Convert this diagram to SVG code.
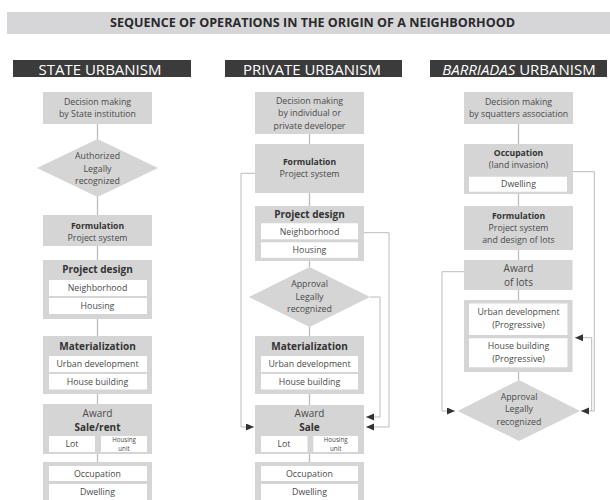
<svg xmlns="http://www.w3.org/2000/svg" width="610" height="500" viewBox="0 0 610 500">
<defs>
<style>
.bg{fill:#ffffff}
.box{fill:#d5d5d5}
.in{fill:#ffffff}
.hd{fill:#3b3b3b}
.tb{fill:#d6d6d9}
.t{font-family:"Open Sans","Liberation Sans",sans-serif;font-size:8.8px;fill:#4a4a4a;text-anchor:middle}
.b{font-family:"Open Sans","Liberation Sans",sans-serif;font-size:8.6px;font-weight:700;fill:#333;text-anchor:middle}
.bl{font-family:"Open Sans","Liberation Sans",sans-serif;font-size:10px;font-weight:700;fill:#333;text-anchor:middle}
.l{font-family:"Open Sans","Liberation Sans",sans-serif;font-size:10px;fill:#4a4a4a;text-anchor:middle}
.s{font-family:"Open Sans","Liberation Sans",sans-serif;font-size:6.2px;fill:#4a4a4a;text-anchor:middle}
.h{font-family:"Open Sans","Liberation Sans",sans-serif;font-size:15px;fill:#ffffff;text-anchor:middle}
.ti{font-family:"Open Sans","Liberation Sans",sans-serif;font-size:13px;font-weight:700;fill:#2a2a2a;text-anchor:middle}
.c{fill:none;stroke:#bdbdbd;stroke-width:1.3}
.f{fill:none;stroke:#bcbcbc;stroke-width:1}
</style>
<marker id="arr" markerUnits="userSpaceOnUse" markerWidth="9" markerHeight="8" refX="8" refY="3.5" orient="auto">
<path d="M0,0 L8,3.5 L0,7 z" fill="#333"/>
</marker>
</defs>
<rect class="bg" x="0" y="0" width="610" height="500"/>

<g id="title">
<rect class="tb" x="7" y="12" width="603" height="22"/>
<text class="ti" x="312.5" y="27.3" textLength="405" lengthAdjust="spacingAndGlyphs">SEQUENCE OF OPERATIONS IN THE ORIGIN OF A NEIGHBORHOOD</text>
</g>

<g id="headers">
<rect class="hd" x="13" y="60" width="178" height="17"/>
<text class="h" x="100" y="75">STATE URBANISM</text>
<rect class="hd" x="225" y="60" width="177" height="17"/>
<text class="h" x="312" y="75">PRIVATE URBANISM</text>
<rect class="hd" x="430" y="60" width="177" height="17"/>
<text class="h" x="519" y="75"><tspan font-style="italic">BARRIADAS</tspan> URBANISM</text>
</g>

<g id="connectors">
<path class="c" d="M97.5 124 V139 M97.5 197 V215 M97.5 246 V260 M97.5 319 V336 M97.5 394 V404 M97.5 454 V462"/>
<path class="c" d="M309.5 134 V144 M309.5 193 V206 M309.5 261 V267 M309.5 327 V336 M309.5 394 V405 M309.5 454 V462"/>
<path class="f" d="M255 173.3 H241 V427 H254" marker-end="url(#arr)"/>
<path class="f" d="M364 232.7 H389 V427 H366" marker-end="url(#arr)"/>
<path class="f" d="M370 297 H380 V417 H366" marker-end="url(#arr)"/>
<path class="c" d="M518.5 124 V144 M518.5 194 V206 M518.5 250 V260 M518.5 290 V300 M518.5 372 V380"/>
<path class="f" d="M464 271.7 H442 V411 H455" marker-end="url(#arr)"/>
<path class="f" d="M573 171.7 H594.3 V411 H581" marker-end="url(#arr)"/>
<path class="f" d="M591.7 411 V337.7 H575" marker-end="url(#arr)"/>
</g>

<g id="s-decision">
<rect class="box" x="43" y="92" width="109" height="32"/>
<text class="t" x="97.5" y="104.5">Decision making</text>
<text class="t" x="97.5" y="117">by State institution</text>
</g>
<g id="s-authorized">
<polygon class="box" points="97.5,139 158,168 97.5,197 37,168"/>
<text class="t" x="97.5" y="159">Authorized</text>
<text class="t" x="97.5" y="172">Legally</text>
<text class="t" x="97.5" y="184">recognized</text>
</g>
<g id="s-formulation">
<rect class="box" x="43" y="215" width="109" height="31"/>
<text class="b" x="97.5" y="229">Formulation</text>
<text class="t" x="97.5" y="241">Project system</text>
</g>
<g id="s-design">
<rect class="box" x="43" y="260" width="109" height="59"/>
<text class="bl" x="97.5" y="273">Project design</text>
<rect class="in" x="49" y="280" width="98" height="16"/>
<text class="t" x="97.5" y="291">Neighborhood</text>
<rect class="in" x="49" y="298" width="98" height="16"/>
<text class="t" x="97.5" y="309">Housing</text>
</g>
<g id="s-materialization">
<rect class="box" x="43" y="336" width="109" height="58"/>
<text class="bl" x="97.5" y="349.5">Materialization</text>
<rect class="in" x="49" y="356" width="98" height="16"/>
<text class="t" x="97.5" y="367">Urban development</text>
<rect class="in" x="49" y="374" width="98" height="15.5"/>
<text class="t" x="97.5" y="385">House building</text>
</g>
<g id="s-award">
<rect class="box" x="43" y="404" width="109" height="50"/>
<text class="l" x="97.5" y="417">Award</text>
<text class="bl" x="97.5" y="430.5">Sale/rent</text>
<rect class="in" x="49" y="436" width="46" height="16"/>
<text class="t" x="72" y="447">Lot</text>
<rect class="in" x="101" y="436" width="46" height="16"/>
<text class="s" x="124" y="442.2">Housing</text>
<text class="s" x="124" y="450.8">unit</text>
</g>
<g id="s-occupation">
<rect class="box" x="43" y="462" width="109" height="40"/>
<rect class="in" x="49" y="466" width="98" height="15"/>
<text class="t" x="97.5" y="476.5">Occupation</text>
<rect class="in" x="49" y="484" width="98" height="16"/>
<text class="t" x="97.5" y="495">Dwelling</text>
</g>

<g id="p-decision">
<rect class="box" x="255" y="92" width="109" height="42"/>
<text class="t" x="309.5" y="103.7">Decision making</text>
<text class="t" x="309.5" y="116.3">by individual or</text>
<text class="t" x="309.5" y="128.7">private developer</text>
</g>
<g id="p-formulation">
<rect class="box" x="255" y="144" width="109" height="49"/>
<text class="b" x="309.5" y="164.7">Formulation</text>
<text class="t" x="309.5" y="177.3">Project system</text>
</g>
<g id="p-design">
<rect class="box" x="255" y="206" width="109" height="55"/>
<text class="bl" x="309.5" y="218">Project design</text>
<rect class="in" x="261" y="223.3" width="97" height="16"/>
<text class="t" x="309.5" y="234.5">Neighborhood</text>
<rect class="in" x="261" y="242.3" width="97" height="15.5"/>
<text class="t" x="309.5" y="253">Housing</text>
</g>
<g id="p-approval">
<polygon class="box" points="309.5,267 370,297 309.5,327 249,297"/>
<text class="t" x="309.5" y="287">Approval</text>
<text class="t" x="309.5" y="299.7">Legally</text>
<text class="t" x="309.5" y="312.3">recognized</text>
</g>
<g id="p-materialization">
<rect class="box" x="255" y="336" width="109" height="58"/>
<text class="bl" x="309.5" y="349.5">Materialization</text>
<rect class="in" x="261" y="356" width="97" height="16"/>
<text class="t" x="309.5" y="367">Urban development</text>
<rect class="in" x="261" y="374" width="97" height="15.5"/>
<text class="t" x="309.5" y="385">House building</text>
</g>
<g id="p-award">
<rect class="box" x="255" y="405" width="109" height="49"/>
<text class="l" x="309.5" y="417">Award</text>
<text class="bl" x="309.5" y="431">Sale</text>
<rect class="in" x="261" y="436" width="46.5" height="16"/>
<text class="t" x="284" y="447">Lot</text>
<rect class="in" x="313.3" y="436" width="44.7" height="16"/>
<text class="s" x="335.7" y="442.2">Housing</text>
<text class="s" x="335.7" y="450.8">unit</text>
</g>
<g id="p-occupation">
<rect class="box" x="255" y="462" width="109" height="40"/>
<rect class="in" x="261" y="466" width="97" height="15"/>
<text class="t" x="309.5" y="476.5">Occupation</text>
<rect class="in" x="261" y="484" width="97" height="16"/>
<text class="t" x="309.5" y="495">Dwelling</text>
</g>

<g id="b-decision">
<rect class="box" x="464" y="92" width="109" height="32"/>
<text class="t" x="518.5" y="104.5">Decision making</text>
<text class="t" x="518.5" y="117">by squatters association</text>
</g>
<g id="b-occupation">
<rect class="box" x="464" y="144" width="109" height="50"/>
<text class="b" x="518.5" y="155.7">Occupation</text>
<text class="t" x="518.5" y="168.3">(land invasion)</text>
<rect class="in" x="469" y="176.7" width="98" height="15"/>
<text class="t" x="518.5" y="187.3">Dwelling</text>
</g>
<g id="b-formulation">
<rect class="box" x="464" y="206" width="109" height="44"/>
<text class="b" x="518.5" y="218.7">Formulation</text>
<text class="t" x="518.5" y="230.7">Project system</text>
<text class="t" x="518.5" y="243.3">and design of lots</text>
</g>
<g id="b-award">
<rect class="box" x="464" y="260" width="108.5" height="30"/>
<text class="l" x="518.5" y="272">Award</text>
<text class="l" x="518.5" y="286">of lots</text>
</g>
<g id="b-progressive">
<rect class="box" x="464" y="300" width="108.5" height="72"/>
<rect class="in" x="469" y="303.5" width="98.5" height="31.5"/>
<text class="t" x="518.5" y="315.3">Urban development</text>
<text class="t" x="518.5" y="328">(Progressive)</text>
<rect class="in" x="469" y="338.3" width="98.5" height="29"/>
<text class="t" x="518.5" y="349.3">House building</text>
<text class="t" x="518.5" y="362">(Progressive)</text>
</g>
<g id="b-approval">
<polygon class="box" points="519,380 580,411 519,441 457.7,411"/>
<text class="t" x="519" y="399.7">Approval</text>
<text class="t" x="519" y="412.3">Legally</text>
<text class="t" x="519" y="425.3">recognized</text>
</g>
</svg>
